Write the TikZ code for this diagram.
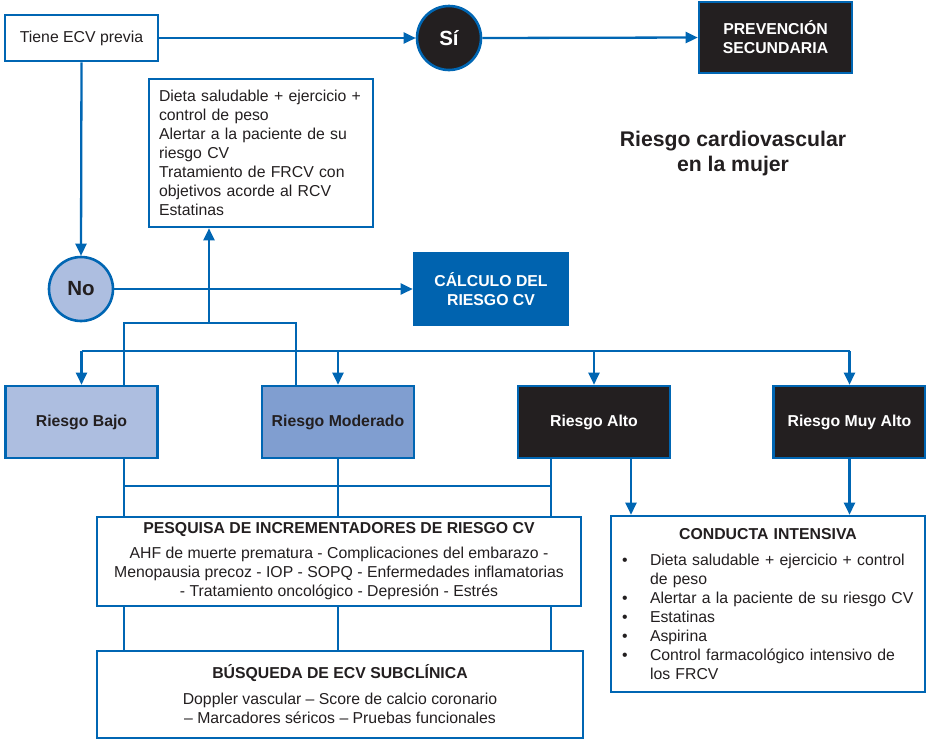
\documentclass[tikz,border=0pt]{standalone}
\usepackage{fontspec}
\setmainfont{Liberation Sans}
\usetikzlibrary{arrows.meta}
\definecolor{cvblue}{RGB}{0,102,179}
\definecolor{cvfill}{RGB}{0,99,175}
\definecolor{cvdark}{RGB}{35,31,32}
\definecolor{cvlight}{RGB}{173,190,224}
\definecolor{cvmed}{RGB}{128,158,208}
\begin{document}
\begin{tikzpicture}[x=1pt,y=-1pt,
  every node/.style={font=\fontsize{15.8}{19}\selectfont, text=cvdark},
  conn/.style={draw=cvblue, line width=2.3pt},
  arr/.style={conn, -{Triangle[length=12pt,width=11pt]}},
  whitebox/.style={draw=cvblue, line width=2.6pt, fill=white, rectangle, inner sep=0pt},
  darkbox/.style={draw=cvblue, line width=2.6pt, fill=cvdark, rectangle, inner sep=0pt, text=white, font=\fontsize{15.8}{19}\selectfont\bfseries, align=center},
  riskbox/.style={draw=cvblue, line width=2.6pt, rectangle, inner sep=0pt, minimum width=152pt, minimum height=72pt, font=\fontsize{15.8}{19}\selectfont\bfseries},
  circ/.style={draw=cvblue, line width=2.6pt, circle, minimum size=64pt, inner sep=0pt, font=\fontsize{20.5}{24}\selectfont\bfseries}
]
\useasboundingbox (0,0) rectangle (926,740);

\node[whitebox, minimum width=153pt, minimum height=46pt] (tiene) at (81.5,38) {Tiene ECV previa};
\node[circ, fill=cvdark, text=white] (si) at (449,38) {Sí};
\node[darkbox, minimum width=153pt, minimum height=71pt] (prev) at (775.5,37.5) {PREVENCIÓN\\SECUNDARIA};
\node[align=center, font=\fontsize{21.2}{25}\selectfont\bfseries] (title) at (733,154) {Riesgo cardiovascular\\en la mujer};

\node[whitebox, minimum width=224pt, minimum height=148pt, text width=204pt, align=left, inner xsep=10pt] (dieta) at (261,153)
  {Dieta saludable + ejercicio +\\control de peso\\Alertar a la paciente de su\\riesgo CV\\Tratamiento de FRCV con\\objetivos acorde al RCV\\Estatinas};

\node[circ, fill=cvlight] (no) at (81,289) {No};
\node[darkbox, fill=cvfill, draw=cvfill, minimum width=154pt, minimum height=72pt] (calc) at (491,289) {CÁLCULO DEL\\RIESGO CV};

\node[riskbox, fill=cvlight] (bajo) at (81.5,422) {Riesgo Bajo};
\node[riskbox, fill=cvmed] (mod) at (338,422) {Riesgo Moderado};
\node[riskbox, fill=cvdark, text=white] (alto) at (594,422) {Riesgo Alto};
\node[riskbox, fill=cvdark, text=white] (muy) at (849.5,422) {Riesgo Muy Alto};

\node[whitebox, minimum width=484pt, minimum height=89pt, align=center] (pesq) at (339,561.5)
  {\textbf{PESQUISA DE INCREMENTADORES DE RIESGO CV}\\[6pt]AHF de muerte prematura - Complicaciones del embarazo -\\Menopausia precoz - IOP - SOPQ - Enfermedades inflamatorias\\- Tratamiento oncológico - Depresión - Estrés};

\node[whitebox, minimum width=486pt, minimum height=87pt, align=center] (busq) at (340,694.5)
  {\textbf{BÚSQUEDA DE ECV SUBCLÍNICA}\\[7pt]Doppler vascular – Score de calcio coronario\\– Marcadores séricos – Pruebas funcionales};

\node[whitebox, minimum width=314pt, minimum height=176pt, text width=292pt, align=left, inner xsep=11pt] (cond) at (768,604)
  {\makebox[\linewidth]{\bfseries CONDUCTA INTENSIVA}\\[7pt]%
   \makebox[28pt][l]{•}Dieta saludable + ejercicio + control\\
   \hspace*{28pt}de peso\\
   \makebox[28pt][l]{•}Alertar a la paciente de su riesgo CV\\
   \makebox[28pt][l]{•}Estatinas\\
   \makebox[28pt][l]{•}Aspirina\\
   \makebox[28pt][l]{•}Control farmacológico intensivo de\\
   \hspace*{28pt}los FRCV};

% top connectors
\draw[arr] (tiene.east) -- (si.west);
\draw[arr] (si.east) -- (prev.west);
\draw[arr] (tiene.south) -- (no.north);
\draw[arr] (no.east) -- (calc.west);

% from low/moderate up to dieta box
\coordinate (jl) at (124,323);
\coordinate (jr) at (296,323);
\coordinate (jm) at (209,323);
\draw[conn] (bajo.north -| jl) -- (jl) -- (jr) -- (mod.north -| jr);
\draw[arr] (jm) -- (dieta.south -| jm);

% distribution line
\coordinate (dl) at (0,351);
\draw[conn] (bajo.north |- dl) -- (muy.north |- dl);
\draw[arr] (bajo.north |- dl) -- (bajo.north);
\draw[arr] (mod.north |- dl) -- (mod.north);
\draw[arr] (alto.north |- dl) -- (alto.north);
\draw[arr] (muy.north |- dl) -- (muy.north);

% lower connectors
\coordinate (la) at (124,486);
\coordinate (lc) at (551,486);
\draw[conn] (bajo.south -| la) -- (pesq.north -| la);
\draw[conn] (mod.south) -- (pesq.north -| mod.south);
\draw[conn] (alto.south -| lc) -- (pesq.north -| lc);
\draw[conn] (la) -- (lc);
\draw[conn] (pesq.south -| la) -- (busq.north -| la);
\draw[conn] (pesq.south -| mod.south) -- (busq.north -| mod.south);
\draw[conn] (pesq.south -| lc) -- (busq.north -| lc);

\coordinate (ra) at (631,0);
\draw[arr] (alto.south -| ra) -- (cond.north -| ra);
\draw[arr] (muy.south) -- (cond.north -| muy.south);
\end{tikzpicture}
\end{document}
